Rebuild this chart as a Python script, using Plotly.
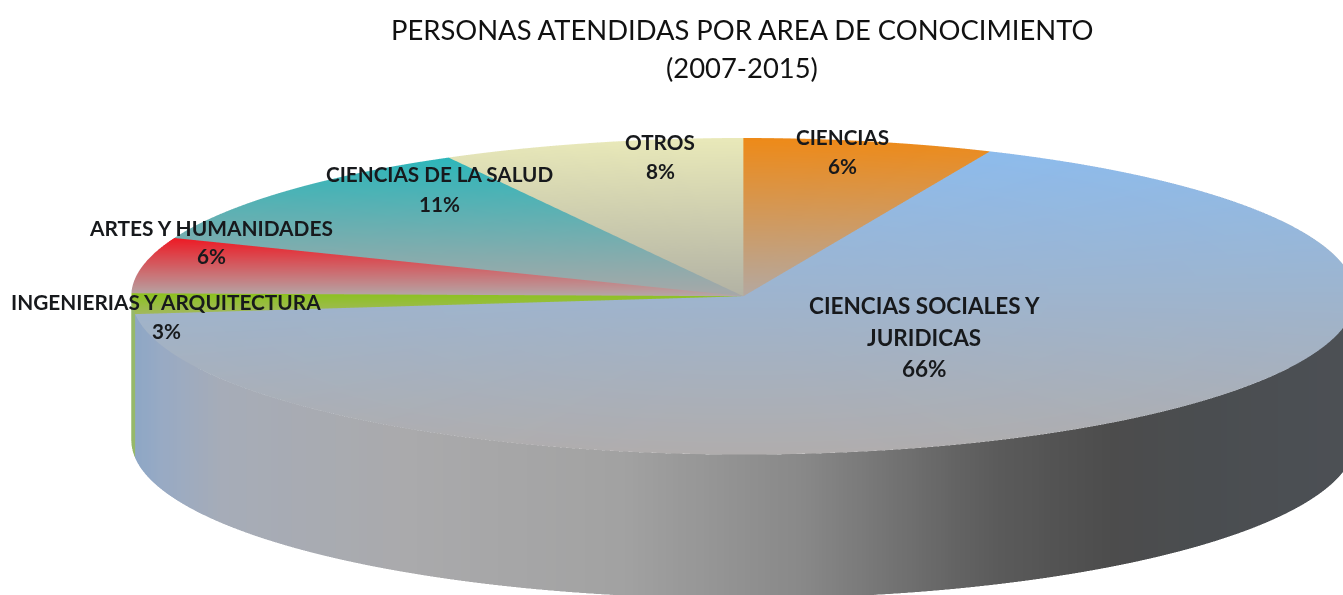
import numpy as np
import plotly.graph_objects as go

TITLE_LINES = ["PERSONAS ATENDIDAS POR AREA DE CONOCIMIENTO", "(2007-2015)"]
categories = ["CIENCIAS", "CIENCIAS SOCIALES Y JURIDICAS", "INGENIERIAS Y ARQUITECTURA",
              "ARTES Y HUMANIDADES", "CIENCIAS DE LA SALUD", "OTROS"]
labelled_pct = [6, 66, 3, 6, 11, 8]
drawn_share = [6.6, 66.6, 2.1, 5.7, 11.0, 8.0]   # slice sizes as seen in the tilted picture
top_colors = ["#EE8A18", "#8DBBEC", "#8CC21E", "#EE1A24", "#2DB6BA", "#E9E9B9"]
end_colors = ["#B4A8A0", "#B0ADAD", "#A2B85E", "#B4A8A8", "#A8A8A8", "#B2B2A4"]

side_pos = [-1.0, -0.95, -0.85, -0.55, -0.2, 0.1, 0.4, 0.6, 0.75, 1.0]
side_rgb = [(140, 166, 198), (152, 170, 196), (166, 172, 184), (170, 170, 172), (162, 162, 162),
            (136, 136, 136), (92, 92, 92), (76, 76, 76), (74, 77, 80), (76, 80, 85)]
green_side = (150, 184, 106)

HEIGHT = 0.2436
ELEV = np.arcsin(158 / 611)
ZOOM = 4.115
EYE_DIST = 6.0
SHIFT_X = -71.5 / 296
SHIFT_Z = 0.2463


def hex2rgb(h):
    return np.array([int(h[i:i + 2], 16) for i in (1, 3, 5)], float)


def css(c):
    return "rgb(%d,%d,%d)" % tuple(np.clip(np.round(c), 0, 255))


def side_color(x, idx):
    if idx == 2:
        return green_side
    return tuple(np.interp(x, side_pos, [c[k] for c in side_rgb]) for k in range(3))


LIGHT = dict(ambient=1.0, diffuse=0.0, specular=0.0, fresnel=0.0, roughness=1.0)
fig = go.Figure()
edges = np.cumsum([0] + drawn_share) / sum(drawn_share) * 2 * np.pi
for i, (a, b) in enumerate(zip(edges[:-1], edges[1:])):
    th = np.linspace(a, b, max(6, int((b - a) * 60)))
    px, py = np.sin(th), np.cos(th)
    X = np.r_[0.0, px]
    Y = np.r_[0.0, py]
    Z = np.zeros_like(X)
    t = (Y.max() - Y) / (Y.max() - Y.min())
    c0, c1 = hex2rgb(top_colors[i]), hex2rgb(end_colors[i])
    vc = [css(c0 + (c1 - c0) * v) for v in t]
    n = len(th)
    fig.add_trace(go.Mesh3d(x=X, y=Y, z=Z, i=[0] * (n - 1), j=list(range(1, n)), k=list(range(2, n + 1)),
                            vertexcolor=vc, lighting=LIGHT, flatshading=False, hoverinfo="skip",
                            showscale=False, name=categories[i]))
    X = np.r_[px, px]
    Y = np.r_[py, py]
    Z = np.r_[np.zeros(n), np.full(n, -HEIGHT)]
    vc = [css(side_color(x, i)) for x in X]
    ii, jj, kk = [], [], []
    for q in range(n - 1):
        ii += [q, q + 1]
        jj += [q + 1, q + 1 + n]
        kk += [q + n, q + n]
    fig.add_trace(go.Mesh3d(x=X, y=Y, z=Z, i=ii, j=jj, k=kk, vertexcolor=vc, lighting=LIGHT,
                            hoverinfo="skip", showscale=False, name=categories[i]))

label_lines = [
    (categories[0], 842, 137, 20.7), ("%d%%" % labelled_pct[0], 842, 166, 20.7),
    ("CIENCIAS SOCIALES Y", 924, 305, 22.5), ("JURIDICAS", 924, 337, 22.5), ("%d%%" % labelled_pct[1], 924, 368, 22.5),
    (categories[2], 166, 301, 20.8), ("%d%%" % labelled_pct[2], 166, 331, 20.7),
    (categories[3], 211, 227, 20.9), ("%d%%" % labelled_pct[3], 211, 256, 20.7),
    (categories[4], 439, 174, 20.7), ("%d%%" % labelled_pct[4], 439, 204, 20.7),
    (categories[5], 660, 142, 20.7), ("%d%%" % labelled_pct[5], 660, 171, 20.7),
]
W, H = 1343, 595
ann = []
for txt, x, y, size in label_lines:
    ann.append(dict(text="<b>%s</b>" % txt, x=x / W, y=1 - y / H, xref="paper", yref="paper",
                    xanchor="center", yanchor="middle", showarrow=False,
                    font=dict(family="Lato", size=size, color="#17191c")))
for txt, y in zip(TITLE_LINES, (29, 67)):
    ann.append(dict(text=txt, x=742 / W, y=1 - y / H, xref="paper", yref="paper",
                    xanchor="center", yanchor="middle", showarrow=False,
                    font=dict(family="Lato", size=27.4, color="#111111")))

hidden = dict(visible=False, showgrid=False, zeroline=False, showticklabels=False,
              showbackground=False, showspikes=False, title="")
fig.update_layout(
    width=W, height=H, margin=dict(l=0, r=0, t=0, b=0), paper_bgcolor="white", showlegend=False,
    annotations=ann,
    scene=dict(
        domain=dict(x=[0, 1], y=[0, 1]),
        xaxis=dict(hidden, range=[-1, 1]), yaxis=dict(hidden, range=[-1, 1]), zaxis=dict(hidden, range=[-HEIGHT, 0]),
        aspectmode="manual", aspectratio=dict(x=ZOOM, y=ZOOM, z=ZOOM * HEIGHT / 2),
        camera=dict(projection=dict(type="orthographic"), up=dict(x=0, y=0, z=1),
                    center=dict(x=SHIFT_X, y=0, z=SHIFT_Z),
                    eye=dict(x=SHIFT_X, y=-EYE_DIST * np.cos(ELEV), z=SHIFT_Z + EYE_DIST * np.sin(ELEV))),
    ),
)
fig.write_html("out.html", config=dict(displayModeBar=False),
               post_script="document.body.style.margin='0';document.body.style.overflow='hidden';")
